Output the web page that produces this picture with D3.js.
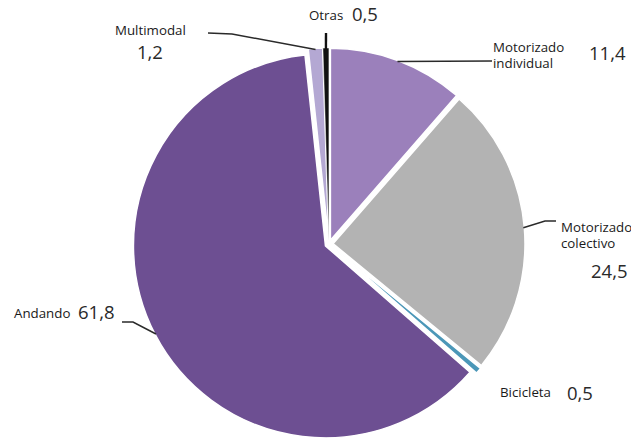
<!DOCTYPE html>
<html><head><meta charset="utf-8">
<script src="https://cdn.jsdelivr.net/npm/d3@7"></script>
<style>html,body{margin:0;padding:0;background:#fff;}svg{display:block;}</style>
</head><body><svg id="c" width="631" height="439"></svg>
<script>
// ---- data ----
const categories = ["Motorizado individual", "Motorizado colectivo", "Bicicleta", "Andando", "Multimodal", "Otras"];
const values = [11.4, 24.5, 0.5, 61.8, 1.2, 0.5];
const valueLabels = ["11,4", "24,5", "0,5", "61,8", "1,2", "0,5"];
const nameLines = [["Motorizado", "individual"], ["Motorizado", "colectivo"], ["Bicicleta"], ["Andando"], ["Multimodal"], ["Otras"]];

// ---- styles / layout ----
const colors = ["#9b80bb", "#b3b3b3", "#4b97b8", "#6d4f92", "#b4a8d3", "#111111"];
const W = 631, H = 439, cx = 329, cy = 244, R = 192, explode = 4;
// label layout: name position, value position, leader elbow points (null = no leader)
const layout = [
  {name:[493,52], value:[589,60], elbow:[[492,61]]},
  {name:[561,232], value:[591,278], elbow:[[545,221],[556,221]]},
  {name:[500,397], value:[567,400], elbow:null},
  {name:[14,318], value:[78,319], elbow:[[133,322],[122,322]]},
  {name:[115,35], value:[137,59], elbow:[[232,34],[208,33]]},
  {name:[309,20], value:[352,21], elbow:[[326,33]]}
];

const svg = d3.select("#c");
const pie = d3.pie().sort(null).value(d => d).startAngle(0).endAngle(2*Math.PI);
const arcs = pie(values);
const arc = d3.arc().innerRadius(0).outerRadius(R);

const g = svg.append("g").attr("transform", `translate(${cx},${cy})`);
function off(d){ const a=(d.startAngle+d.endAngle)/2; return [Math.sin(a)*explode, -Math.cos(a)*explode]; }

g.selectAll("path.slice").data(arcs).join("path")
  .attr("class","slice")
  .attr("d", arc)
  .attr("transform", d => { const o = off(d); return `translate(${o[0]},${o[1]})`; })
  .attr("fill", (d,i) => colors[i])
  .attr("stroke", "#fff").attr("stroke-width", (d,i)=> i===5 ? 0.5 : 1.5).attr("stroke-linejoin","round");

// leaders
arcs.forEach((d,i) => {
  const L = layout[i];
  if (!L.elbow) return;
  const a = (d.startAngle+d.endAngle)/2;
  const o = off(d);
  const p0 = [cx + o[0] + Math.sin(a)*(R-1), cy + o[1] - Math.cos(a)*(R-1)];
  const pts = [p0].concat(L.elbow);
  svg.append("path").attr("d", d3.line()(pts))
    .attr("fill","none").attr("stroke", i===5 ? "#111" : "#2a2a2a")
    .attr("stroke-width", i===5 ? 2.4 : 1.5);
});

// labels
arcs.forEach((d,i) => {
  const L = layout[i];
  const t = svg.append("text").attr("x", L.name[0]).attr("y", L.name[1])
    .attr("font-family","'Open Sans', sans-serif").attr("font-size", 13.3).attr("fill","#1a1a1a");
  nameLines[i].forEach((s,k) => {
    t.append("tspan").attr("x", L.name[0]).attr("dy", k===0 ? 0 : 15.5).text(s);
  });
  svg.append("text").attr("x", L.value[0]).attr("y", L.value[1])
    .attr("font-family","'Open Sans', sans-serif").attr("font-size", 18.5).attr("font-weight", 500).attr("fill","#2a2a2a")
    .text(valueLabels[i]);
});
</script>
</body></html>
